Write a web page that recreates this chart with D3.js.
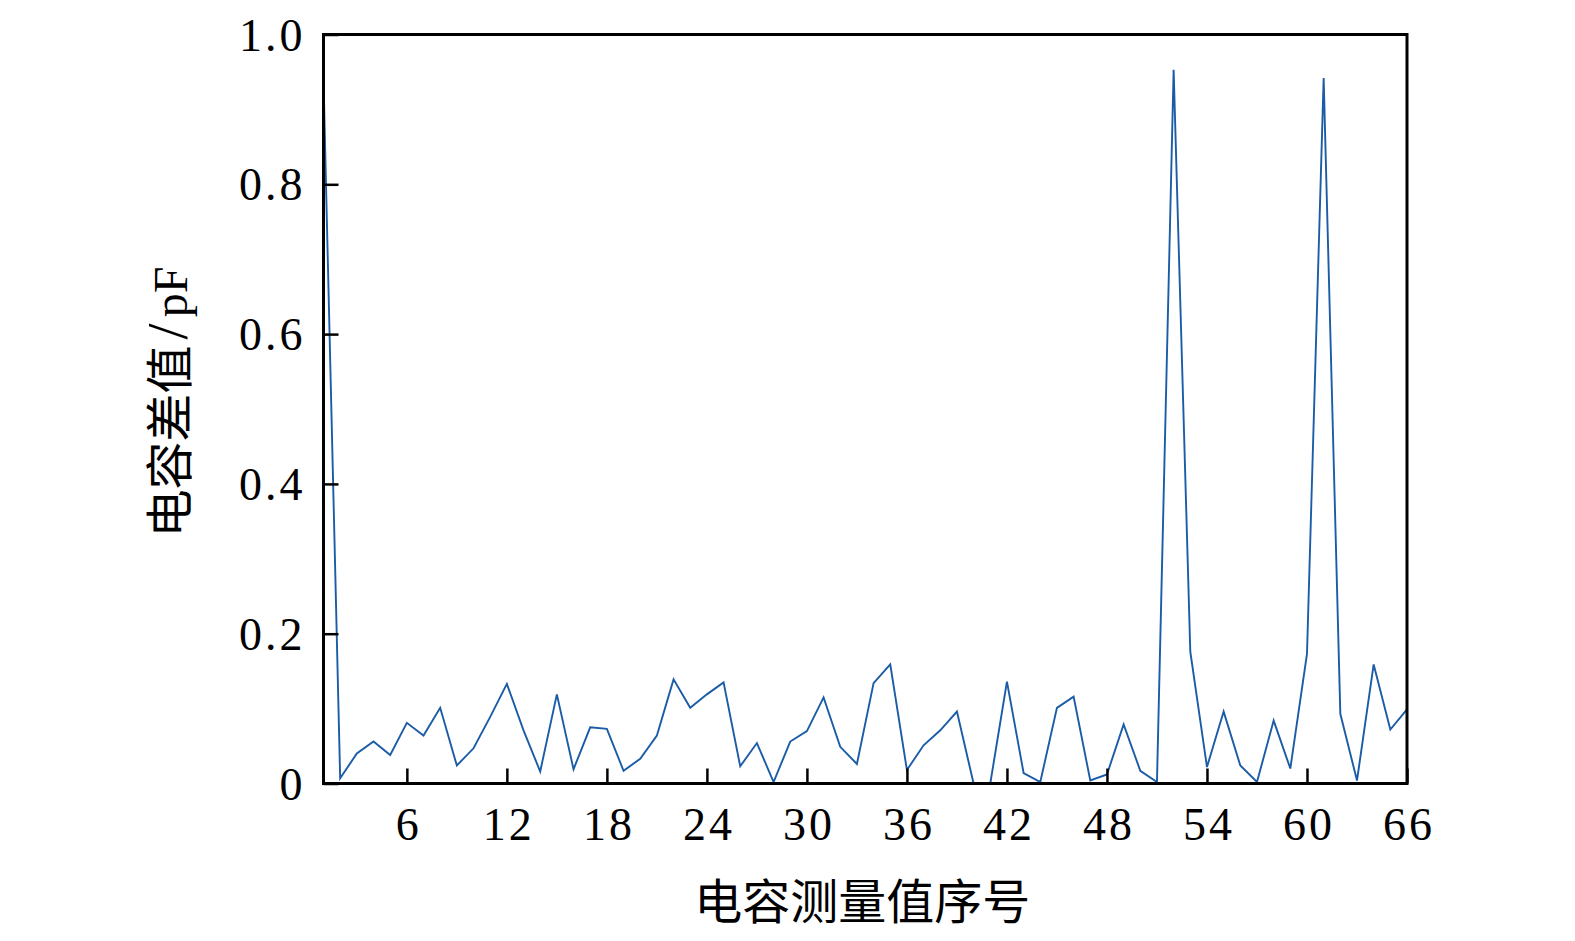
<!DOCTYPE html>
<html>
<head>
<meta charset="utf-8">
<script src="https://cdn.jsdelivr.net/npm/d3@7"></script>
<style>
  html, body { margin: 0; padding: 0; background: #fff; }
  svg { display: block; }
</style>
</head>
<body>
<svg id="chart" width="1575" height="941"></svg>
<script>
// ---- data ----
const indices = d3.range(1, 67); // measurement index 1..66
const values = [
  0.940, 0.007, 0.040, 0.056, 0.038, 0.081, 0.064, 0.101, 0.024, 0.047,
  0.089, 0.133, 0.071, 0.016, 0.119, 0.019, 0.075, 0.073, 0.017, 0.033,
  0.064, 0.139, 0.101, 0.119, 0.135, 0.023, 0.054, 0.002, 0.056, 0.070,
  0.115, 0.049, 0.026, 0.134, 0.159, 0.018, 0.051, 0.071, 0.096, 0.000,
  0.000, 0.136, 0.014, 0.002, 0.101, 0.116, 0.004, 0.012, 0.079, 0.017,
  0.002, 0.953, 0.176, 0.022, 0.096, 0.024, 0.002, 0.084, 0.020, 0.173,
  0.942, 0.093, 0.004, 0.159, 0.072, 0.099
];
const xTicks = [6, 12, 18, 24, 30, 36, 42, 48, 54, 60, 66];
const yTicks = [0, 0.2, 0.4, 0.6, 0.8, 1.0];
const yTickLabels = ["0", "0.2", "0.4", "0.6", "0.8", "1.0"];
const xTitle = "电容测量值序号";
const yTitleCJK = "电容差值";
const yTitleSlash = "/";
const yTitleUnit = "pF";

// ---- layout ----
const L = 323.5, R = 1407, T = 34.5, B = 783.5;
const svg = d3.select("#chart");
const x = d3.scaleLinear().domain([1, 66]).range([L, R]);
const y = d3.scaleLinear().domain([0, 1]).range([B, T]);

const serif = "'Liberation Serif', 'DejaVu Serif', serif";
const cjk = "'Noto Sans CJK SC', sans-serif";

// line
const line = d3.line().x((d, i) => x(indices[i])).y(d => y(d));
svg.append("path")
  .datum(values)
  .attr("d", line)
  .attr("fill", "none")
  .attr("stroke", "#1b5ca6")
  .attr("stroke-width", 1.9)
  .attr("stroke-linejoin", "miter");

// axes
const xAxis = d3.axisBottom(x).tickValues(xTicks).tickSizeInner(-15).tickSizeOuter(0).tickPadding(24).tickFormat(d3.format("d"));
const gx = svg.append("g").attr("transform", `translate(0,${B})`).call(xAxis);
const yAxis = d3.axisLeft(y).tickValues(yTicks).tickSizeInner(-15).tickSizeOuter(0).tickPadding(18)
  .tickFormat((d, i) => yTickLabels[i]);
const gy = svg.append("g").attr("transform", `translate(${L},0)`).call(yAxis);

[gx, gy].forEach(g => {
  g.select(".domain").remove();
  g.selectAll(".tick line").attr("stroke", "#000").attr("stroke-width", 2.5);
  g.selectAll(".tick text").attr("fill", "#000").style("font-family", serif).style("font-size", "46px")
    .style("letter-spacing", "3px");
});
gy.selectAll(".tick text").attr("dy", "0.34em");
gx.selectAll(".tick text").attr("dy", "0.71em").attr("dx", "1.5px");

// frame box
svg.append("rect")
  .attr("x", L).attr("y", T).attr("width", R - L).attr("height", B - T)
  .attr("fill", "none").attr("stroke", "#000").attr("stroke-width", 3);

// titles
svg.append("text")
  .attr("x", (L + R) / 2 - 3).attr("y", 919)
  .attr("text-anchor", "middle")
  .style("font-family", cjk).style("font-size", "48px").attr("fill", "#000")
  .text(xTitle);

const yt = svg.append("text")
  .attr("transform", `translate(187,402) rotate(-90)`)
  .attr("text-anchor", "middle")
  .attr("fill", "#000");
yt.append("tspan").style("font-family", cjk).style("font-size", "48px").text(yTitleCJK);
yt.append("tspan").style("font-family", serif).style("font-size", "58px").attr("dx", 6).text(yTitleSlash);
yt.append("tspan").style("font-family", serif).style("font-size", "48px").attr("dx", 6).text(yTitleUnit);
</script>
</body>
</html>
